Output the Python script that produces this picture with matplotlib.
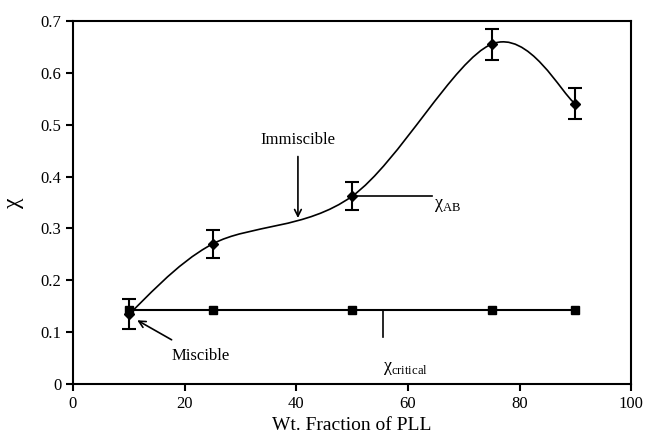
import numpy as np
import matplotlib
matplotlib.use("Agg")
import matplotlib.pyplot as plt
from matplotlib.path import Path
from matplotlib.patches import PathPatch

plt.rcParams['font.family'] = ['Liberation Serif', 'DejaVu Serif']

# data
wt_frac = [10, 25, 50, 75, 90]
chi_ab = [0.135, 0.27, 0.362, 0.655, 0.54]
chi_ab_err = [0.028, 0.027, 0.027, 0.03, 0.03]
chi_crit = [0.143, 0.143, 0.143, 0.143, 0.143]


def smooth_path(xs, ys):
    # excel-style smoothed line: cubic bezier through each point
    pts = np.column_stack([xs, ys])
    n = len(pts)
    verts = [pts[0]]
    codes = [Path.MOVETO]
    for i in range(n - 1):
        p0 = pts[max(i - 1, 0)]
        p1 = pts[i]
        p2 = pts[i + 1]
        p3 = pts[min(i + 2, n - 1)]
        verts += [p1 + (p2 - p0) / 6, p2 - (p3 - p1) / 6, p2]
        codes += [Path.CURVE4] * 3
    return Path(verts, codes)


fig = plt.figure(figsize=(6.46, 4.43), dpi=100)
ax = fig.add_axes([0.113, 0.133, 0.864, 0.82])

ax.add_patch(PathPatch(smooth_path(wt_frac, chi_ab), facecolor='none', edgecolor='black', lw=1.2))
ax.errorbar(wt_frac, chi_ab, yerr=chi_ab_err, fmt='D', color='black', ms=5,
            capsize=5, capthick=1.5, elinewidth=1.5)
ax.plot(wt_frac, chi_crit, color='black', lw=1.5, marker='s', ms=6)

ax.set_xlim(0, 100)
ax.set_ylim(0, 0.7)
ax.set_xticks([0, 20, 40, 60, 80, 100])
ax.set_yticks([0, 0.1, 0.2, 0.3, 0.4, 0.5, 0.6, 0.7])
ax.set_yticklabels(['0', '0.1', '0.2', '0.3', '0.4', '0.5', '0.6', '0.7'])
ax.tick_params(direction='out', length=5, width=1.5, labelsize=12)
for s in ax.spines.values():
    s.set_linewidth(1.5)

ax.set_xlabel('Wt. Fraction of PLL', fontsize=14)
ax.set_ylabel('χ', fontsize=17, rotation=90, labelpad=12)

# annotations
ax.annotate('Immiscible', xy=(40.3, 0.32), xytext=(40.3, 0.47), ha='center', va='center',
            fontsize=12, arrowprops=dict(arrowstyle='->', color='black', lw=1.2,
                                         shrinkA=4, shrinkB=0))
ax.annotate('Miscible', xy=(11.5, 0.123), xytext=(22.8, 0.054), ha='center', va='center',
            fontsize=12, arrowprops=dict(arrowstyle='->', color='black', lw=1.2,
                                         shrinkA=8, shrinkB=0))
ax.plot([50, 64.3], [0.362, 0.362], color='black', lw=1.2)
ax.text(64.6, 0.345, r'χ$_{\mathregular{AB}}$', fontsize=13, va='center')
ax.plot([55.6, 55.6], [0.143, 0.09], color='black', lw=1.2)
ax.text(55.6, 0.03, r'χ$_{\mathregular{critical}}$', fontsize=13, va='center')

fig.savefig('out.png', dpi=100)
